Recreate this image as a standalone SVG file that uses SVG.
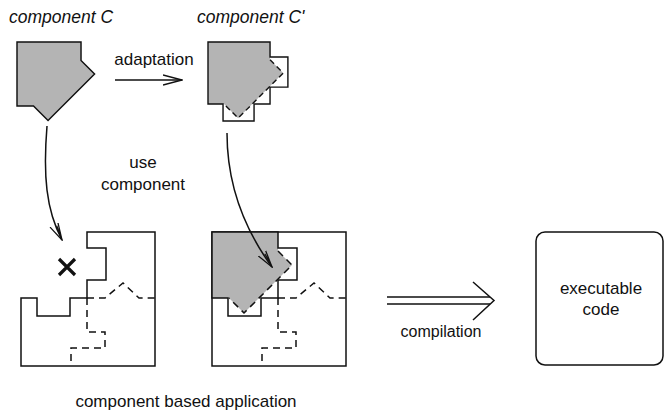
<svg xmlns="http://www.w3.org/2000/svg" xmlns:xlink="http://www.w3.org/1999/xlink" width="665" height="416" viewBox="0 0 665 416">
  <style>
    .lbl { font-family: "Liberation Sans", Arial, Helvetica, sans-serif; font-size: 17px; fill: #111; }
    .ital { font-style: italic; }
    .mid { text-anchor: middle; }
    .line { fill: none; stroke: #111; stroke-width: 1.5; stroke-linejoin: miter; }
    .dash { fill: none; stroke: #111; stroke-width: 1.5; stroke-dasharray: 7 5; }
    .gray { fill: #b4b4b4; }
    .ns { vector-effect: non-scaling-stroke; }
  </style>
  <defs>
    <!-- square with a rotated square pushed out at the lower right -->
    <path id="compShape" d="M0,0 H66 V19 L80,33 L32,81 L17,66 H0 Z"/>
    <!-- socket: square with a right tab and a bottom tab -->
    <path id="sockShape" d="M0,0 H66 V16 H85 V48 H66 V66 H49 V84 H16 V66 H0 Z"/>
    <!-- edges of the rotated square that lie inside the tabs -->
    <path id="diamondEdges" d="M66,19 L80,33 L32,81 L17,66"/>
    <marker id="vhead" markerUnits="userSpaceOnUse" viewBox="0 0 20 12" markerWidth="20" markerHeight="12" refX="19" refY="6" orient="auto">
      <path d="M0,1 L19,6 L0,11" fill="none" stroke="#111" stroke-width="1.4"/>
    </marker>
    <marker id="vheadS" markerUnits="userSpaceOnUse" viewBox="0 0 18 12" markerWidth="18" markerHeight="12" refX="17" refY="6" orient="auto">
      <path d="M0,1.5 L17,6 L0,10.5 M2,4 L17,6" fill="none" stroke="#111" stroke-width="1.3"/>
    </marker>
  </defs>

  <!-- component C -->
  <g id="componentC">
    <use xlink:href="#compShape" transform="translate(17,42) scale(0.97)" class="gray line ns" style="fill:#b4b4b4"/>
    <text class="lbl ital" x="9" y="23" style="font-size:17.5px">component C</text>
  </g>

  <!-- adapted component C' -->
  <g id="componentC2">
    <g transform="translate(208,42) scale(0.94)">
      <use xlink:href="#compShape" style="fill:#b4b4b4;stroke:none"/>
      <use xlink:href="#diamondEdges" class="dash ns" style="stroke-dasharray:6 4"/>
      <use xlink:href="#sockShape" class="line ns"/>
    </g>
    <text class="lbl ital" x="197" y="23" style="font-size:17.5px">component C'</text>
  </g>

  <!-- application with empty socket -->
  <g id="app1">
    <path class="line" d="M87,232 H155 V366 H21 V298 H37 V316 H70 V298 H87 V280 H106 V248 H87 Z"/>
    <path class="dash" d="M87,298 H105 L123,283 L139,298 H155"/>
    <path class="dash" d="M87,298 V332 H105 V348 H71 V361"/>
    <path d="M59,259 L75,275 M75,259 L59,275" stroke="#111" stroke-width="3.2" fill="none"/>
  </g>

  <!-- application with component C' plugged in -->
  <g id="app2">
    <rect class="line" x="212" y="232" width="134" height="134"/>
    <g transform="translate(212,232)">
      <use xlink:href="#compShape" style="fill:#b4b4b4;stroke:none"/>
      <use xlink:href="#diamondEdges" class="dash"/>
      <use xlink:href="#sockShape" class="line"/>
    </g>
    <path class="dash" d="M278,298 H296 L314,283 L330,298 H346"/>
    <path class="dash" d="M278,298 V332 H296 V348 H262 V361"/>
  </g>

  <!-- executable code -->
  <g id="exec">
    <rect class="line" x="536" y="232" width="127" height="133" rx="9"/>
    <text class="lbl mid" x="601" y="294">executable</text>
    <text class="lbl mid" x="601" y="315">code</text>
  </g>

  <!-- connectors -->
  <g id="connectors">
    <g id="adaptation">
      <path class="line" d="M115,80 H182" marker-end="url(#vhead)"/>
      <text class="lbl mid" x="154" y="65">adaptation</text>
    </g>
    <g id="use">
      <path class="line" d="M47,126 C43,175 46,210 62,240" marker-end="url(#vheadS)"/>
      <path class="line" d="M227,133 C227,185 245,230 272,267" marker-end="url(#vheadS)"/>
      <text class="lbl mid" x="143" y="168">use</text>
      <text class="lbl mid" x="143" y="190">component</text>
    </g>
    <g id="compilation">
      <path class="line" d="M387,297 H490 M387,304 H490"/>
      <path class="line" d="M473,282 L494,300.5 L473,320"/>
      <text class="lbl mid" x="441" y="337" style="font-size:16px">compilation</text>
    </g>
  </g>

  <text class="lbl mid" x="186" y="407">component based application</text>
</svg>
